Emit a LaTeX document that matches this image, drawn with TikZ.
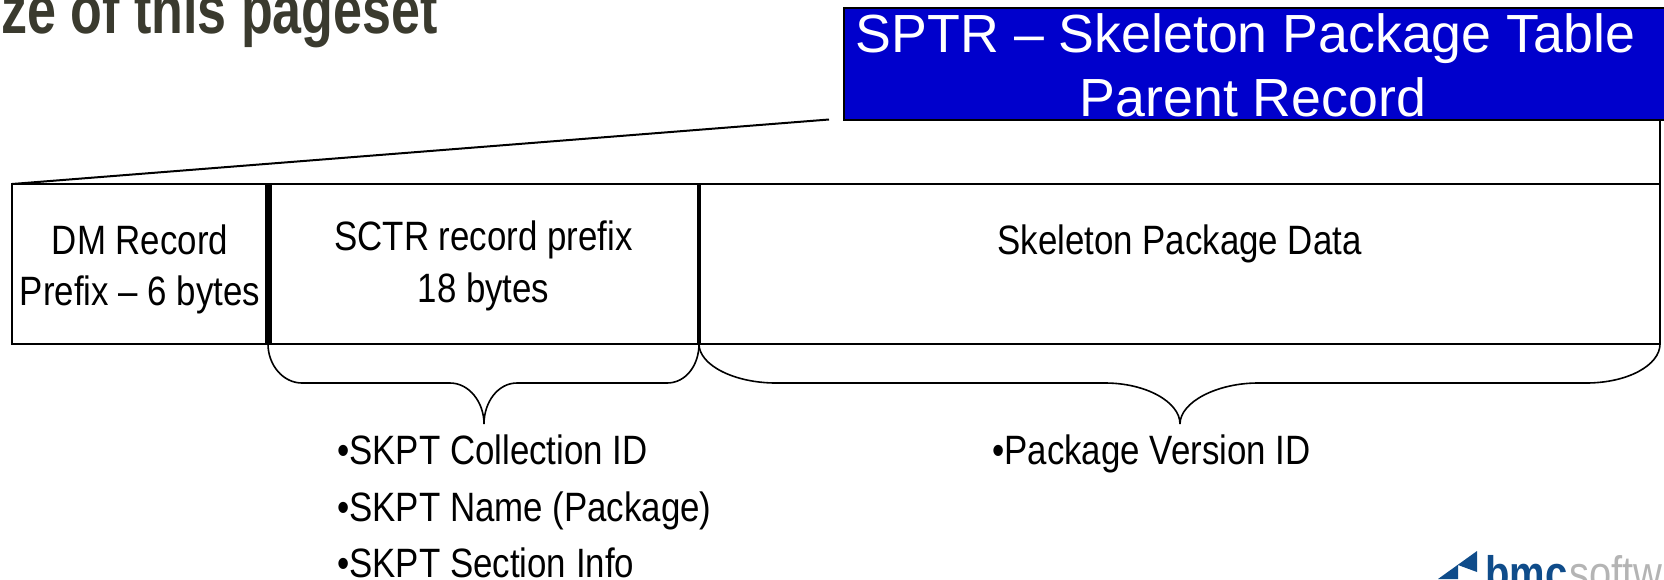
\documentclass[tikz,border=0pt]{standalone}
\usepackage{fontspec}
\setmainfont{Liberation Sans}
\newfontfamily\narrowfont[FakeStretch=0.85]{Liberation Sans}
\newfontfamily\titlefont[FakeStretch=0.765]{Liberation Sans}
\definecolor{sptrblue}{HTML}{0000CC}
\definecolor{pagetitle}{HTML}{3A3A2E}
\definecolor{logoblue}{HTML}{0F4C8A}
\definecolor{logogray}{HTML}{B4B4B4}
\tikzset{
    recordcell/.style={draw, line width=2pt, inner sep=0pt, outer sep=0pt, anchor=north west,
        minimum height=160pt, align=center, font=\narrowfont\fontsize{41}{51.5}\selectfont},
    divider/.style={line width=#1},
    bracket/.style={line width=1.6pt},
    outline/.style={line width=2pt},
    fieldlist/.style={inner sep=0pt, align=left, font=\narrowfont\fontsize{41}{56.5}\selectfont},
    logotext/.style={inner sep=0pt, anchor=base west, font=\narrowfont\fontsize{47}{47}\selectfont}
}
\begin{document}
\begin{tikzpicture}[x=1pt,y=-1pt]
        \path[use as bounding box,clip]
            (0,0) rectangle (1664,579);
        \node[inner sep=0pt, anchor=base west, text=pagetitle, font=\titlefont\bfseries\fontsize{68}{68}\selectfont] (pagetitletext)
            at (1,33.5) {ze of this pageset};
        \node[draw, line width=2pt, fill=sptrblue, inner sep=0pt, outer sep=0pt, anchor=north west, minimum width=824pt, minimum height=112pt] (sptr)
            at (844,8) {};
        \node[text=white, inner sep=0pt, align=center, font=\fontsize{53.7}{64}\selectfont] (sptrtext)
            at (1253,65) {SPTR – Skeleton Package Table\kern15pt\\Parent Record};
        \node[recordcell, minimum width=256pt, text height=92pt] (dm)
            at (12,184) {DM Record\\Prefix – 6 bytes};
        \node[recordcell, minimum width=431pt, text height=84.5pt] (sctr)
            at (dm.north east) {SCTR record prefix\\18 bytes};
        \node[recordcell, minimum width=961pt, text height=84pt] (data)
            at (sctr.north east) {Skeleton Package Data\\\mbox{}};
        \coordinate (diagonalend) at (829,119.5);
        \coordinate (sptrcorner) at (1660,120);
        \coordinate (sctrtip) at (484,424);
        \coordinate (datatip) at (1180,424);
        \draw[outline]
            (dm.north west)--(diagonalend);
        \draw[outline]
            (sptrcorner)--(data.north east);
        \draw[divider=7pt]
            (dm.north east)--(dm.south east);
        \draw[divider=4pt]
            (sctr.north east)--(sctr.south east);
        \draw[bracket]
            (sctr.south west) .. controls +(0,21) and +(-19,0) .. (302,383)
            -- (450,383) .. controls +(19,0) and +(0,-22) .. (sctrtip)
            .. controls +(0,-22) and +(-19,0) .. (517,383)
            -- (667,383) .. controls +(19,0) and +(0,21) .. (sctr.south east);
        \draw[bracket]
            (data.south west) .. controls +(0,21) and +(-42,0) .. (776,383)
            -- (1105,383) .. controls +(41,0) and +(0,-22) .. (datatip)
            .. controls +(0,-22) and +(-41,0) .. (1258,383)
            -- (1586,383) .. controls +(42,0) and +(0,21) .. (data.south east);
        \node[fieldlist, anchor=north west] (sctrfields)
            at (337,435) {•SKPT Collection ID\\•SKPT Name (Package)\\•SKPT Section Info};
        \node[fieldlist, anchor=north west] (datafields)
            at (992,435) {•Package Version ID};
        \fill[logoblue]
            (1477,551)--(1438,579)--(1458,579)--(1458,565)--(1477,572)--cycle;
        \node[logotext, text=logoblue, font=\narrowfont\bfseries\fontsize{47}{47}\selectfont] (logobmc)
            at (1485,589) {bmc};
        \node[logotext, text=logogray] (logosoftware)
            at (1569,589) {software};
    \end{tikzpicture}
\end{document}
